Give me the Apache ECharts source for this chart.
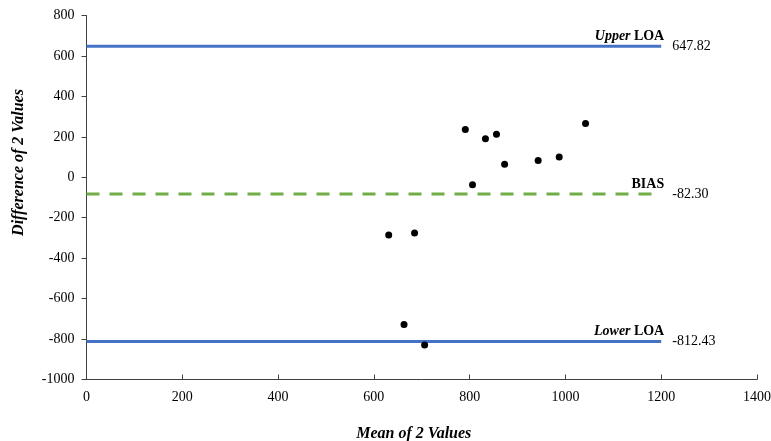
<!DOCTYPE html>
<html><head><meta charset="utf-8">
<script src="https://cdn.jsdelivr.net/npm/echarts@6/dist/echarts.min.js"></script>
<style>html,body{margin:0;padding:0;background:#fff}#c{width:771px;height:441px}</style>
</head><body><div id="c"></div>
<script>
var meanValues = [631, 685, 663, 706, 791, 806, 833, 856, 873, 943, 987, 1042];
var diffValues = [-285, -275, -728, -830, 236, -37, 190, 213, 65, 83, 100, 266];
var upperLOA = 647.82;
var bias = -82.30;
var lowerLOA = -812.43;
var lineXRange = [0, 1200];
var xTicks = {min: 0, max: 1400, interval: 200};
var yTicks = {min: -1000, max: 800, interval: 200};

var FONT = '"Liberation Serif", "Times New Roman", serif';
var points = meanValues.map(function (m, i) { return [m, diffValues[i]]; });

function refLine(value, color, dashed, nameRich) {
  return {
    type: 'line',
    data: [{value: [lineXRange[0], value], label: {show: false}}, {
      value: [lineXRange[1], value],
      label: {
        show: true, position: 'top', align: 'right', distance: 3,
        offset: [3, 0],
        formatter: nameRich,
        rich: {
          i: {fontFamily: FONT, fontSize: 14, fontStyle: 'italic', fontWeight: 'bold', color: '#000'},
          b: {fontFamily: FONT, fontSize: 14, fontWeight: 'bold', color: '#000'}
        }
      }
    }],
    symbol: 'circle', symbolSize: 0, showSymbol: true,
    itemStyle: {color: color},
    lineStyle: {color: color, width: 3, type: dashed ? [13, 10] : 'solid'},
    endLabel: {
      show: true, distance: 11,
      formatter: function () { return value.toFixed(2); },
      fontFamily: FONT, fontSize: 14, color: '#000'
    },
    silent: true, animation: false, z: 1
  };
}

var chart = echarts.init(document.getElementById('c'));
chart.setOption({
  animation: false,
  grid: {left: 86.5, right: 14, top: 15.5, bottom: 61.5, outerBoundsMode: 'none', containLabel: false},
  xAxis: {
    type: 'value', min: xTicks.min, max: xTicks.max, interval: xTicks.interval,
    name: 'Mean of 2 Values', nameLocation: 'middle', nameGap: 46,
    nameTextStyle: {fontFamily: FONT, fontSize: 16, fontWeight: 'bold', fontStyle: 'italic', color: '#000', padding: [0, 16, 0, 0]},
    axisLine: {onZero: false, lineStyle: {color: '#404040', width: 1}},
    axisTick: {inside: true, length: 5, lineStyle: {color: '#404040'}},
    axisLabel: {fontFamily: FONT, fontSize: 14, color: '#000', margin: 11, formatter: function (v) { return String(v); }},
    splitLine: {show: false}
  },
  yAxis: {
    type: 'value', min: yTicks.min, max: yTicks.max, interval: yTicks.interval,
    name: 'Difference of 2 Values', nameLocation: 'middle', nameGap: 60,
    nameTextStyle: {fontFamily: FONT, fontSize: 16, fontWeight: 'bold', fontStyle: 'italic', color: '#000', padding: [0, 0, 0, 70]},
    axisLine: {show: true, onZero: false, lineStyle: {color: '#404040', width: 1}},
    axisTick: {show: true, inside: false, length: 5, lineStyle: {color: '#404040'}},
    axisLabel: {fontFamily: FONT, fontSize: 14, color: '#000', margin: 12, formatter: function (v) { return String(v); }},
    splitLine: {show: false}
  },
  series: [
    refLine(upperLOA, '#4472C4', false, '{i|Upper} {b|LOA}'),
    refLine(bias, '#70AD47', true, '{b|BIAS}'),
    refLine(lowerLOA, '#4472C4', false, '{i|Lower} {b|LOA}'),
    {
      type: 'scatter', data: points, symbol: 'circle', symbolSize: 7,
      itemStyle: {color: '#000', opacity: 1}, z: 3, animation: false
    }
  ]
});
</script></body></html>
